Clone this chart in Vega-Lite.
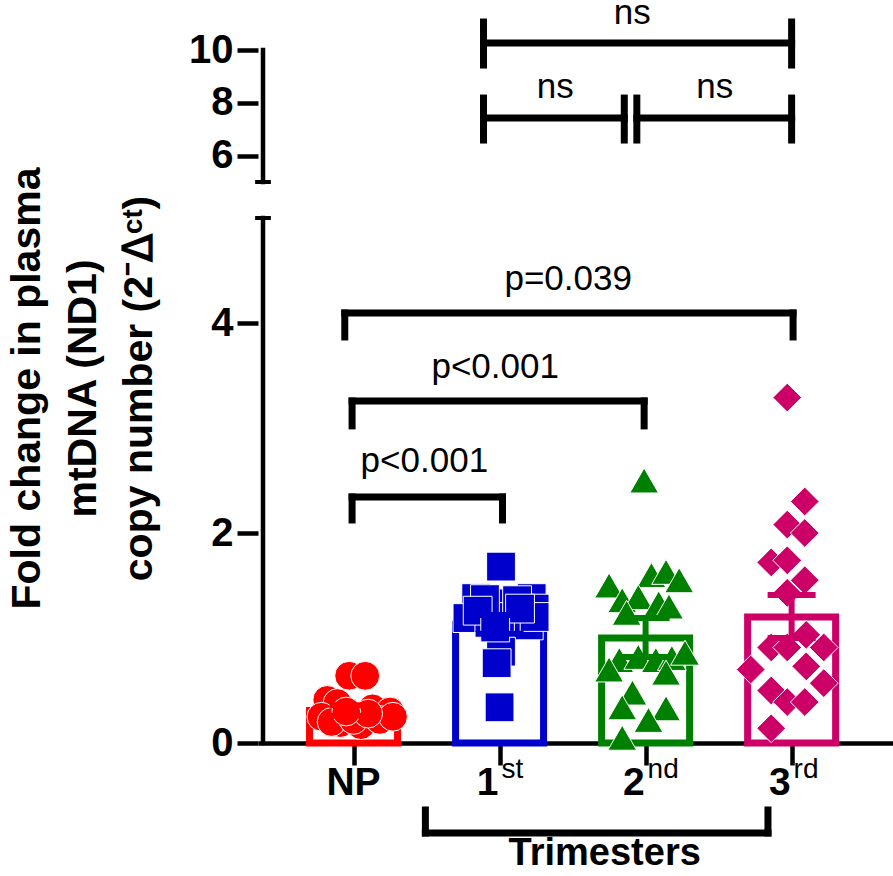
{
  "$schema": "https://vega.github.io/schema/vega-lite/v6.json",
  "autosize": {"type": "none"},
  "padding": {"left": 258, "top": 0, "right": 0, "bottom": 133},
  "width": 635,
  "height": 743,
  "background": "white",
  "config": {"view": {"stroke": null}, "font": "Liberation Sans"},
  "datasets": {
    "pts": [
      {"g": "NP", "x": 0.97, "y": 0.64}, {"g": "NP", "x": 1.08, "y": 0.64}, {"g": "NP", "x": 0.82, "y": 0.41},
      {"g": "NP", "x": 0.89, "y": 0.38}, {"g": "NP", "x": 1.13, "y": 0.33}, {"g": "NP", "x": 1.25, "y": 0.30},
      {"g": "NP", "x": 0.78, "y": 0.25}, {"g": "NP", "x": 0.91, "y": 0.19}, {"g": "NP", "x": 1.05, "y": 0.17},
      {"g": "NP", "x": 1.18, "y": 0.22}, {"g": "NP", "x": 1.27, "y": 0.25}, {"g": "NP", "x": 0.85, "y": 0.20},
      {"g": "NP", "x": 1.00, "y": 0.22}, {"g": "NP", "x": 1.10, "y": 0.28}, {"g": "NP", "x": 0.95, "y": 0.30},
      {"g": "1st", "x": 2.01, "y": 1.68}, {"g": "1st", "x": 1.84, "y": 1.38}, {"g": "1st", "x": 2.01, "y": 1.33},
      {"g": "1st", "x": 2.22, "y": 1.38}, {"g": "1st", "x": 1.78, "y": 1.19}, {"g": "1st", "x": 1.93, "y": 1.19},
      {"g": "1st", "x": 2.06, "y": 1.20}, {"g": "1st", "x": 2.24, "y": 1.28}, {"g": "1st", "x": 2.20, "y": 1.12},
      {"g": "1st", "x": 2.01, "y": 0.87}, {"g": "1st", "x": 1.98, "y": 0.76}, {"g": "1st", "x": 2.00, "y": 0.34},
      {"g": "1st", "x": 1.90, "y": 1.37}, {"g": "1st", "x": 2.12, "y": 1.36}, {"g": "1st", "x": 2.24, "y": 1.20},
      {"g": "1st", "x": 1.85, "y": 1.26}, {"g": "1st", "x": 2.14, "y": 1.28}, {"g": "1st", "x": 1.97, "y": 1.10},
      {"g": "2nd", "x": 2.99, "y": 2.50}, {"g": "2nd", "x": 2.75, "y": 1.50}, {"g": "2nd", "x": 3.04, "y": 1.60},
      {"g": "2nd", "x": 3.14, "y": 1.63}, {"g": "2nd", "x": 3.23, "y": 1.55}, {"g": "2nd", "x": 2.84, "y": 1.36},
      {"g": "2nd", "x": 2.95, "y": 1.39}, {"g": "2nd", "x": 3.09, "y": 1.33}, {"g": "2nd", "x": 3.16, "y": 1.30},
      {"g": "2nd", "x": 2.87, "y": 1.24}, {"g": "2nd", "x": 2.82, "y": 0.79}, {"g": "2nd", "x": 2.95, "y": 0.82},
      {"g": "2nd", "x": 3.07, "y": 0.79}, {"g": "2nd", "x": 3.18, "y": 0.81}, {"g": "2nd", "x": 3.27, "y": 0.86},
      {"g": "2nd", "x": 2.75, "y": 0.70}, {"g": "2nd", "x": 3.14, "y": 0.67}, {"g": "2nd", "x": 2.91, "y": 0.48},
      {"g": "2nd", "x": 2.84, "y": 0.34}, {"g": "2nd", "x": 3.14, "y": 0.33}, {"g": "2nd", "x": 3.02, "y": 0.22},
      {"g": "2nd", "x": 2.84, "y": 0.05},
      {"g": "3rd", "x": 3.97, "y": 3.29}, {"g": "3rd", "x": 4.09, "y": 2.30}, {"g": "3rd", "x": 3.97, "y": 2.08},
      {"g": "3rd", "x": 4.09, "y": 2.00}, {"g": "3rd", "x": 3.86, "y": 1.72}, {"g": "3rd", "x": 3.97, "y": 1.74},
      {"g": "3rd", "x": 4.09, "y": 1.55}, {"g": "3rd", "x": 3.97, "y": 1.43}, {"g": "3rd", "x": 4.10, "y": 1.03},
      {"g": "3rd", "x": 3.86, "y": 0.91}, {"g": "3rd", "x": 3.97, "y": 0.91}, {"g": "3rd", "x": 4.22, "y": 0.91},
      {"g": "3rd", "x": 3.72, "y": 0.70}, {"g": "3rd", "x": 4.10, "y": 0.73}, {"g": "3rd", "x": 4.22, "y": 0.57},
      {"g": "3rd", "x": 3.86, "y": 0.50}, {"g": "3rd", "x": 3.97, "y": 0.39}, {"g": "3rd", "x": 4.09, "y": 0.39},
      {"g": "3rd", "x": 3.86, "y": 0.14}
    ],
    "summ": [
      {"g": "NP", "x": 1, "m": 0.31, "lo": 0.26, "hi": 0.36},
      {"g": "1st", "x": 2, "m": 1.13, "lo": 1.04, "hi": 1.22},
      {"g": "2nd", "x": 3, "m": 1.0, "lo": 0.82, "hi": 1.19},
      {"g": "3rd", "x": 4, "m": 1.2, "lo": 1.0, "hi": 1.41}
    ],
    "br": [
      {"x1": 0.99, "x2": 2.02, "y": 2.343, "c1": 2.343, "c2": 2.124},
      {"x1": 0.99, "x2": 2.99, "y": 3.257, "c1": 3.257, "c2": 3.02},
      {"x1": 0.94, "x2": 4.01, "y": 4.095, "c1": 4.095, "c2": 3.867},
      {"x1": 1.89, "x2": 4.0, "y": 10.265, "c1": 11.06, "c2": 9.43},
      {"x1": 1.89, "x2": 2.854, "y": 7.42, "c1": 8.18, "c2": 6.59},
      {"x1": 2.94, "x2": 4.0, "y": 7.42, "c1": 8.18, "c2": 6.59},
      {"x1": 1.492, "x2": 3.838, "y": -0.857, "c1": -0.857, "c2": -0.638}
    ],
    "txt": [
      {"x": 1.485, "y": 2.58, "t": "p<0.001"},
      {"x": 1.97, "y": 3.48, "t": "p<0.001"},
      {"x": 2.47, "y": 4.31, "t": "p=0.039"},
      {"x": 2.908, "y": 10.98, "t": "ns"},
      {"x": 2.382, "y": 8.18, "t": "ns"},
      {"x": 3.474, "y": 8.18, "t": "ns"}
    ],
    "ax": [
      {"x": 0.38, "y1": 0, "y2": 5},
      {"x": 0.38, "y1": 5.0001, "y2": 10}
    ],
    "axcap": [
      {"xa": 0.326, "xb": 0.434, "y": 5},
      {"xa": 0.326, "xb": 0.434, "y": 5.0001}
    ],
    "xlab": [
      {"x": 1, "main": "NP", "sup": ""},
      {"x": 2, "main": "1", "sup": "st"},
      {"x": 3, "main": "2", "sup": "nd"},
      {"x": 4, "main": "3", "sup": "rd"}
    ],
    "xtitle": [
      {"x": 2.72, "y": -1.16, "t": "Trimesters"}
    ]
  },
  "layer": [
    {
      "data": {"name": "summ"},
      "mark": {"type": "bar", "fill": "white", "strokeWidth": 7, "width": 88},
      "encoding": {
        "x": {
          "field": "x", "type": "quantitative",
          "scale": {"domain": [0.38, 4.66], "nice": false, "zero": false},
          "axis": {
            "values": [1, 2, 3, 4], "labels": false, "title": null, "grid": false,
            "domain": true, "domainColor": "black", "domainWidth": 4.5,
            "ticks": true, "tickSize": 22, "tickWidth": 4.5, "tickColor": "black"
          }
        },
        "y": {
          "field": "m", "type": "quantitative",
          "scale": {"domain": [0, 5, 5.0001, 12], "range": [743, 218, 182, -2.8], "nice": false, "zero": false},
          "axis": {
            "values": [0, 2, 4, 6, 8, 10], "format": "d", "grid": false, "domain": false,
            "ticks": true, "tickSize": 21, "tickWidth": 4.5, "tickColor": "black",
            "labels": true, "labelFontSize": 40, "labelFontWeight": "bold", "labelColor": "black", "labelPadding": 4,
            "title": ["Fold change in plasma", "mtDNA (ND1)", "copy number (2⁻ᐃᶜᵗ)"],
            "titleFontSize": 41, "titleFontWeight": "bold", "titleColor": "black",
            "titleLineHeight": 56, "titleX": -210, "titleY": 388, "titleAngle": 270,
            "titleAlign": "center", "titleBaseline": "bottom"
          }
        },
        "y2": {"datum": 0},
        "stroke": {
          "field": "g", "type": "nominal",
          "scale": {"domain": ["NP", "1st", "2nd", "3rd"], "range": ["#FF0000", "#0000CC", "#008000", "#CC0066"]},
          "legend": null
        }
      }
    },
    {
      "data": {"name": "pts"},
      "mark": {"type": "point", "filled": true, "size": 830, "opacity": 1, "stroke": "white", "strokeWidth": 1},
      "encoding": {
        "x": {"field": "x", "type": "quantitative"},
        "y": {"field": "y", "type": "quantitative"},
        "color": {
          "field": "g", "type": "nominal",
          "scale": {"domain": ["NP", "1st", "2nd", "3rd"], "range": ["#FF0000", "#0000CC", "#008000", "#CC0066"]},
          "legend": null
        },
        "shape": {
          "field": "g", "type": "nominal",
          "scale": {"domain": ["NP", "1st", "2nd", "3rd"], "range": ["circle", "square", "triangle-up", "diamond"]},
          "legend": null
        }
      }
    },
    {
      "data": {"name": "summ"},
      "mark": {"type": "rule", "strokeWidth": 6},
      "encoding": {
        "x": {"field": "x", "type": "quantitative"},
        "y": {"field": "lo", "type": "quantitative"},
        "y2": {"field": "hi"},
        "color": {"field": "g", "type": "nominal", "legend": null}
      }
    },
    {
      "data": {"name": "summ"},
      "mark": {"type": "tick", "orient": "horizontal", "size": 48, "thickness": 6, "opacity": 1},
      "encoding": {
        "x": {"field": "x", "type": "quantitative"},
        "y": {"field": "hi", "type": "quantitative"},
        "color": {"field": "g", "type": "nominal", "legend": null}
      }
    },
    {
      "data": {"name": "summ"},
      "mark": {"type": "tick", "orient": "horizontal", "size": 48, "thickness": 6, "opacity": 1},
      "encoding": {
        "x": {"field": "x", "type": "quantitative"},
        "y": {"field": "lo", "type": "quantitative"},
        "color": {"field": "g", "type": "nominal", "legend": null}
      }
    },
    {
      "data": {"name": "ax"},
      "mark": {"type": "rule", "strokeWidth": 4.5, "color": "black", "strokeCap": "square"},
      "encoding": {
        "x": {"field": "x", "type": "quantitative"},
        "y": {"field": "y1", "type": "quantitative"},
        "y2": {"field": "y2"}
      }
    },
    {
      "data": {"name": "axcap"},
      "mark": {"type": "rule", "strokeWidth": 4, "color": "black"},
      "encoding": {
        "x": {"field": "xa", "type": "quantitative"},
        "x2": {"field": "xb"},
        "y": {"field": "y", "type": "quantitative"}
      }
    },
    {
      "data": {"name": "br"},
      "mark": {"type": "rule", "strokeWidth": 7, "color": "black", "strokeCap": "square"},
      "encoding": {
        "x": {"field": "x1", "type": "quantitative"},
        "x2": {"field": "x2"},
        "y": {"field": "y", "type": "quantitative"}
      }
    },
    {
      "data": {"name": "br"},
      "mark": {"type": "rule", "strokeWidth": 7, "color": "black", "strokeCap": "square"},
      "encoding": {
        "x": {"field": "x1", "type": "quantitative"},
        "y": {"field": "c1", "type": "quantitative"},
        "y2": {"field": "c2"}
      }
    },
    {
      "data": {"name": "br"},
      "mark": {"type": "rule", "strokeWidth": 7, "color": "black", "strokeCap": "square"},
      "encoding": {
        "x": {"field": "x2", "type": "quantitative"},
        "y": {"field": "c1", "type": "quantitative"},
        "y2": {"field": "c2"}
      }
    },
    {
      "data": {"name": "txt"},
      "mark": {"type": "text", "fontSize": 35, "color": "black", "align": "center", "baseline": "alphabetic"},
      "encoding": {
        "x": {"field": "x", "type": "quantitative"},
        "y": {"field": "y", "type": "quantitative"},
        "text": {"field": "t"}
      }
    },
    {
      "data": {"name": "xlab"},
      "transform": [{"filter": "datum.sup === ''"}],
      "mark": {"type": "text", "fontSize": 39, "fontWeight": "bold", "color": "black", "align": "center", "baseline": "alphabetic"},
      "encoding": {
        "x": {"field": "x", "type": "quantitative"},
        "y": {"datum": -0.495, "type": "quantitative"},
        "text": {"field": "main"}
      }
    },
    {
      "data": {"name": "xlab"},
      "transform": [{"filter": "datum.sup !== ''"}],
      "mark": {"type": "text", "fontSize": 39, "fontWeight": "bold", "color": "black", "align": "right", "baseline": "alphabetic", "dx": -1},
      "encoding": {
        "x": {"field": "x", "type": "quantitative"},
        "y": {"datum": -0.495, "type": "quantitative"},
        "text": {"field": "main"}
      }
    },
    {
      "data": {"name": "xlab"},
      "transform": [{"filter": "datum.sup !== ''"}],
      "mark": {"type": "text", "fontSize": 28, "color": "black", "align": "left", "baseline": "alphabetic", "dx": 2},
      "encoding": {
        "x": {"field": "x", "type": "quantitative"},
        "y": {"datum": -0.333, "type": "quantitative"},
        "text": {"field": "sup"}
      }
    },
    {
      "data": {"name": "xtitle"},
      "mark": {"type": "text", "fontSize": 38, "fontWeight": "bold", "color": "black", "align": "center", "baseline": "alphabetic"},
      "encoding": {
        "x": {"field": "x", "type": "quantitative"},
        "y": {"field": "y", "type": "quantitative"},
        "text": {"field": "t"}
      }
    }
  ]
}
